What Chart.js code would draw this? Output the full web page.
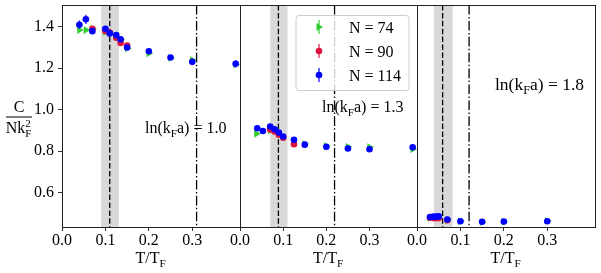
<!DOCTYPE html>
<html>
<head>
<meta charset="utf-8">
<script src="https://cdn.jsdelivr.net/npm/chart.js@4"></script>
<style>
  body { margin: 0; background: #fff; }
  #wrap { position: relative; width: 601px; height: 273px; }
  canvas { position: absolute; left: 0; top: 0; }
</style>
</head>
<body>
<div id="wrap">
  <canvas id="p1" width="601" height="273"></canvas>
  <canvas id="p2" width="601" height="273"></canvas>
  <canvas id="p3" width="601" height="273"></canvas>
</div>
<script>
// ticks and labels
const tTicks = [0.0, 0.1, 0.2, 0.3];
const cTicks = [0.6, 0.8, 1.0, 1.2, 1.4];
const lnKfa = ["1.0", "1.3", "1.8"];
const nLabels = ["N = 74", "N = 90", "N = 114"];

// shaded band, dashed line and dash-dot line per panel
const bandLow = [0.09, 0.07, 0.039];
const bandHigh = [0.131, 0.11, 0.082];
const tcLine = [0.11, 0.089, 0.059];
const dashDotLine = [0.31, 0.219, 0.12];

// ln(kFa) = 1.0
const t74a = [0.04, 0.055, 0.07, 0.10, 0.11, 0.125, 0.135, 0.15, 0.20, 0.25, 0.30, 0.40];
const c74a = [1.384, 1.384, 1.39, 1.376, 1.37, 1.352, 1.338, 1.296, 1.272, 1.25, 1.240, 1.218];
const e74a = [0.008, 0.008, 0.008, 0.008, 0.008, 0.008, 0.008, 0.008, 0.008, 0.008, 0.008, 0.008];
const t90a = [0.07, 0.10, 0.11, 0.125, 0.135, 0.15];
const c90a = [1.39, 1.38, 1.372, 1.347, 1.322, 1.31];
const e90a = [0.008, 0.008, 0.008, 0.008, 0.008, 0.008];
const t114a = [0.04, 0.055, 0.07, 0.10, 0.11, 0.125, 0.135, 0.15, 0.20, 0.25, 0.30, 0.40];
const c114a = [1.41, 1.436, 1.379, 1.39, 1.368, 1.36, 1.34, 1.30, 1.282, 1.252, 1.231, 1.222];
const e114a = [0.02, 0.022, 0.014, 0.014, 0.012, 0.012, 0.012, 0.012, 0.012, 0.01, 0.012, 0.018];

// ln(kFa) = 1.3
const t74b = [0.038, 0.07, 0.15, 0.20, 0.25, 0.30, 0.40];
const c74b = [0.884, 0.9, 0.835, 0.825, 0.822, 0.82, 0.81];
const e74b = [0.008, 0.008, 0.008, 0.008, 0.008, 0.008, 0.008];
const t90b = [0.07, 0.08, 0.09, 0.10, 0.125];
const c90b = [0.905, 0.895, 0.88, 0.865, 0.834];
const e90b = [0.008, 0.008, 0.008, 0.008, 0.008];
const t114b = [0.04, 0.053, 0.07, 0.08, 0.09, 0.10, 0.125, 0.15, 0.20, 0.25, 0.30, 0.40];
const c114b = [0.911, 0.898, 0.919, 0.906, 0.89, 0.871, 0.855, 0.832, 0.822, 0.813, 0.81, 0.819];
const e114b = [0.01, 0.008, 0.01, 0.008, 0.008, 0.008, 0.008, 0.008, 0.008, 0.008, 0.008, 0.008];

// ln(kFa) = 1.8
const t74c = [0.03, 0.07, 0.10, 0.15, 0.20, 0.30];
const c74c = [0.478, 0.468, 0.462, 0.458, 0.46, 0.465];
const e74c = [0.005, 0.005, 0.005, 0.005, 0.005, 0.005];
const t90c = [0.03, 0.038, 0.044, 0.05, 0.07];
const c90c = [0.48, 0.478, 0.477, 0.478, 0.468];
const e90c = [0.005, 0.005, 0.005, 0.005, 0.005];
const t114c = [0.03, 0.038, 0.044, 0.05, 0.07, 0.10, 0.15, 0.20, 0.30];
const c114c = [0.483, 0.485, 0.485, 0.486, 0.471, 0.463, 0.46, 0.461, 0.463];
const e114c = [0.005, 0.005, 0.005, 0.005, 0.005, 0.005, 0.005, 0.005, 0.005];

const GREEN = "#32cd32", RED = "#dc143c", BLUE = "#0000ff";
const SERIF = "'Liberation Serif', 'DejaVu Serif', serif";

// draw text made of [string, "n" | "sub" | "sup"] pieces
function richText(ctx, parts, x, y, size) {
  let cx = x;
  parts.forEach(([s, kind]) => {
    const sz = kind === "n" ? size : size * 0.7;
    const dy = kind === "sub" ? size * 0.25 : kind === "sup" ? -size * 0.38 : 0;
    ctx.font = sz + "px " + SERIF;
    ctx.fillText(s, cx, y + dy);
    cx += ctx.measureText(s).width;
  });
  return cx - x;
}

function drawMarker(ctx, style, color, x, y) {
  ctx.fillStyle = color;
  ctx.beginPath();
  if (style === "triangle") {
    ctx.moveTo(x + 4, y);
    ctx.lineTo(x - 2.5, y - 4);
    ctx.lineTo(x - 2.5, y + 4);
    ctx.closePath();
  } else {
    ctx.arc(x, y, 3.3, 0, Math.PI * 2);
  }
  ctx.fill();
}

const panelDecor = {
  id: "panelDecor",
  beforeDatasetsDraw(chart, args, opts) {
    const { ctx, chartArea: a, scales: { x } } = chart;
    const i = opts.index;
    ctx.save();
    const x0 = x.getPixelForValue(bandLow[i]);
    const x1 = x.getPixelForValue(bandHigh[i]);
    ctx.fillStyle = "rgba(128,128,128,0.3)";
    ctx.fillRect(x0, a.top, x1 - x0, a.bottom - a.top);
    ctx.strokeStyle = "#000";
    ctx.lineWidth = 1.3;
    ctx.setLineDash([5.5, 2.4]);
    let px = x.getPixelForValue(tcLine[i]);
    ctx.beginPath(); ctx.moveTo(px, a.top); ctx.lineTo(px, a.bottom); ctx.stroke();
    ctx.setLineDash([9.6, 2.4, 1.5, 2.4]);
    px = x.getPixelForValue(dashDotLine[i]);
    ctx.beginPath(); ctx.moveTo(px, a.top); ctx.lineTo(px, a.bottom); ctx.stroke();
    ctx.restore();
  },
  // error bars, under each dataset's own markers
  beforeDatasetDraw(chart, args) {
    const ds = chart.data.datasets[args.index];
    const { ctx, chartArea: a, scales: { x, y } } = chart;
    ctx.save();
    ctx.strokeStyle = ds.borderColor;
    ctx.lineWidth = 1.2;
    ds.data.forEach((p, j) => {
      const px = x.getPixelForValue(p.x);
      const y1 = Math.min(a.bottom, y.getPixelForValue(p.y - ds.errs[j]));
      const y2 = Math.max(a.top, y.getPixelForValue(p.y + ds.errs[j]));
      ctx.beginPath(); ctx.moveTo(px, y1); ctx.lineTo(px, y2); ctx.stroke();
    });
    ctx.restore();
  },
  afterDraw(chart, args, opts) {
    const { ctx, chartArea: a } = chart;
    const i = opts.index;
    ctx.save();
    // frame (neighbouring panels share their edge line)
    ctx.strokeStyle = "#222";
    ctx.lineWidth = 1;
    ctx.strokeRect(Math.round(a.left) + 0.5, Math.round(a.top) + 0.5,
      Math.round(a.right - a.left), Math.round(a.bottom - a.top));
    ctx.fillStyle = "#000";
    ctx.textBaseline = "alphabetic";
    // x title
    ctx.font = "16px " + SERIF;
    const wT = ctx.measureText("T/T").width + 7;
    richText(ctx, [["T/T", "n"], ["F", "sub"]], (a.left + a.right) / 2 - wT / 2, 263, 16);
    // ln(kFa) label
    const lnPos = [[145, 133, 16], [322, 112, 16], [495, 90, 17.5]][i];
    richText(ctx, [["ln(k", "n"], ["F", "sub"], ["a) = " + lnKfa[i], "n"]], lnPos[0], lnPos[1], lnPos[2]);
    if (i === 0) {
      // y label as a fraction
      ctx.font = "16px " + SERIF;
      ctx.textAlign = "center";
      ctx.fillText("C", 19, 112);
      ctx.fillRect(6, 116.5, 26, 1);
      ctx.textAlign = "left";
      ctx.font = "16px " + SERIF;
      const wNk = ctx.measureText("Nk").width;
      const sx = 19 - (wNk + 7) / 2;
      ctx.fillText("Nk", sx, 133);
      ctx.font = "11px " + SERIF;
      ctx.fillText("2", sx + wNk, 127);
      ctx.fillText("F", sx + wNk, 137);
    }
    if (i === 1) {
      // legend
      ctx.fillStyle = "rgba(255,255,255,0.8)";
      ctx.strokeStyle = "#cccccc";
      ctx.beginPath();
      ctx.roundRect(296, 15.5, 113, 75, 3);
      ctx.fill(); ctx.stroke();
      const cols = [GREEN, RED, BLUE];
      const styles = ["triangle", "circle", "circle"];
      nLabels.forEach((lab, k) => {
        const ly = 27 + k * 24;
        ctx.strokeStyle = cols[k];
        ctx.lineWidth = 1.2;
        ctx.beginPath(); ctx.moveTo(319, ly - 7); ctx.lineTo(319, ly + 7); ctx.stroke();
        drawMarker(ctx, styles[k], cols[k], 319, ly);
        ctx.fillStyle = "#000";
        ctx.font = "16px " + SERIF;
        ctx.fillText(lab, 349, ly + 5.5);
      });
    }
    ctx.restore();
  }
};

function series(t, c, e, color, style, order) {
  return {
    data: t.map((v, j) => ({ x: v, y: c[j] })),
    errs: e,
    backgroundColor: color,
    borderColor: color,
    borderWidth: 0,
    pointStyle: style,
    pointRotation: style === "triangle" ? 90 : 0,
    pointRadius: style === "triangle" ? 4.4 : 3.3,
    order: order
  };
}

const padL = [0, 240, 417];
const padR = [361, 184, 6];
const tickFont = { family: SERIF, size: 16 };

function makePanel(i, canvasId, datasets) {
  return new Chart(document.getElementById(canvasId), {
    type: "scatter",
    data: { datasets },
    options: {
      responsive: false,
      animation: false,
      events: [],
      layout: { padding: { left: padL[i], right: padR[i], top: 5, bottom: 0 } },
      plugins: { legend: { display: false }, tooltip: { enabled: false }, panelDecor: { index: i } },
      scales: {
        x: {
          type: "linear", min: 0, max: 0.41,
          afterBuildTicks: s => { s.ticks = tTicks.map(v => ({ value: v })); },
          afterFit: s => { s.height = 46; s.paddingLeft = 0; s.paddingRight = 0; },
          grid: { drawOnChartArea: false, tickLength: 4, color: "#333" },
          border: { display: false },
          ticks: { font: tickFont, color: "#000", padding: 0, maxRotation: 0, callback: v => v.toFixed(1) }
        },
        y: {
          type: "linear", display: i === 0, min: 0.435, max: 1.505,
          afterBuildTicks: s => { s.ticks = cTicks.map(v => ({ value: v })); },
          afterFit: s => { s.width = i === 0 ? 62 : 0; s.paddingTop = 0; s.paddingBottom = 0; },
          grid: { drawOnChartArea: false, tickLength: 4, color: "#333" },
          border: { display: false },
          ticks: { font: tickFont, color: "#000", padding: 4, callback: v => v.toFixed(1) }
        }
      }
    },
    plugins: [panelDecor]
  });
}

makePanel(0, "p1", [
  series(t74a, c74a, e74a, GREEN, "triangle", 2),
  series(t90a, c90a, e90a, RED, "circle", 1),
  series(t114a, c114a, e114a, BLUE, "circle", 0)
]);
makePanel(1, "p2", [
  series(t74b, c74b, e74b, GREEN, "triangle", 2),
  series(t90b, c90b, e90b, RED, "circle", 1),
  series(t114b, c114b, e114b, BLUE, "circle", 0)
]);
makePanel(2, "p3", [
  series(t74c, c74c, e74c, GREEN, "triangle", 2),
  series(t90c, c90c, e90c, RED, "circle", 1),
  series(t114c, c114c, e114c, BLUE, "circle", 0)
]);
</script>
</body>
</html>
